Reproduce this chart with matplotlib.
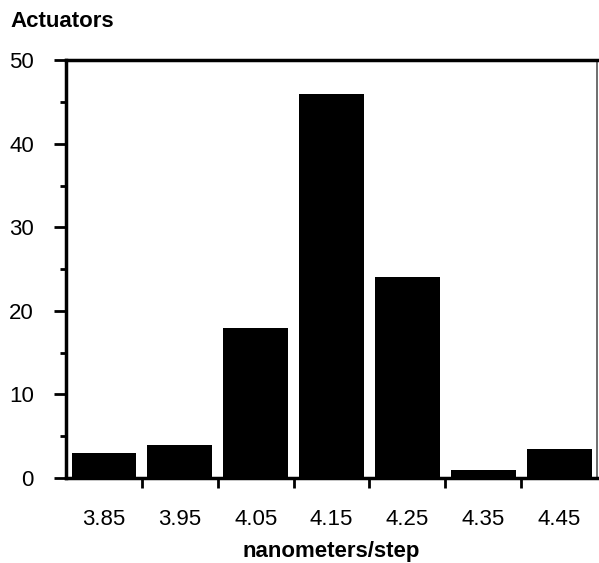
import matplotlib.pyplot as plt
import numpy as np

# step size bins (nm/step) and actuator counts
bin_labels = ["3.85", "3.95", "4.05", "4.15", "4.25", "4.35", "4.45"]
bin_centers = [3.85, 3.95, 4.05, 4.15, 4.25, 4.35, 4.45]
counts = [3, 4, 18, 46, 24, 1, 3.5]
y_ticks = [0, 10, 20, 30, 40, 50]

plt.rcParams['font.family'] = ['Liberation Sans', 'DejaVu Sans']

fig = plt.figure(figsize=(5.99, 5.63), dpi=100)
ax = fig.add_axes([0.110, 0.151, 0.887, 0.742])

ax.bar(bin_centers, counts, width=0.085, color='black', edgecolor='none')

edges = np.round(np.array(bin_centers) - 0.05, 2).tolist() + [bin_centers[-1] + 0.05]
ax.set_xlim(edges[0], edges[-1])
ax.set_ylim(0, 50)

# tick marks at bin edges, labels at bar centres
ax.set_xticks(bin_centers)
ax.set_xticklabels(bin_labels, fontsize=16)
ax.tick_params(axis='x', which='major', length=0, pad=22)
ax.set_xticks(edges[1:-1], minor=True)
ax.tick_params(axis='x', which='minor', direction='out', length=7, width=2)

ax.set_yticks(y_ticks)
ax.set_yticklabels([str(v) for v in y_ticks], fontsize=16)
ax.set_yticks(np.arange(5, 50, 5), minor=True)
ax.tick_params(axis='y', which='major', direction='out', length=9, width=2, pad=14)
ax.tick_params(axis='y', which='minor', direction='out', length=4, width=2)

for side in ['left', 'bottom', 'top']:
    ax.spines[side].set_linewidth(2.5)
ax.spines['right'].set_linewidth(1.2)
ax.spines['right'].set_color('#555555')

ax.set_xlabel("nanometers/step", fontsize=16, fontweight='bold', labelpad=8)
fig.text(0.017, 0.962, "Actuators", fontsize=16, fontweight='bold', va='center')

fig.savefig("out.png", dpi=100)
